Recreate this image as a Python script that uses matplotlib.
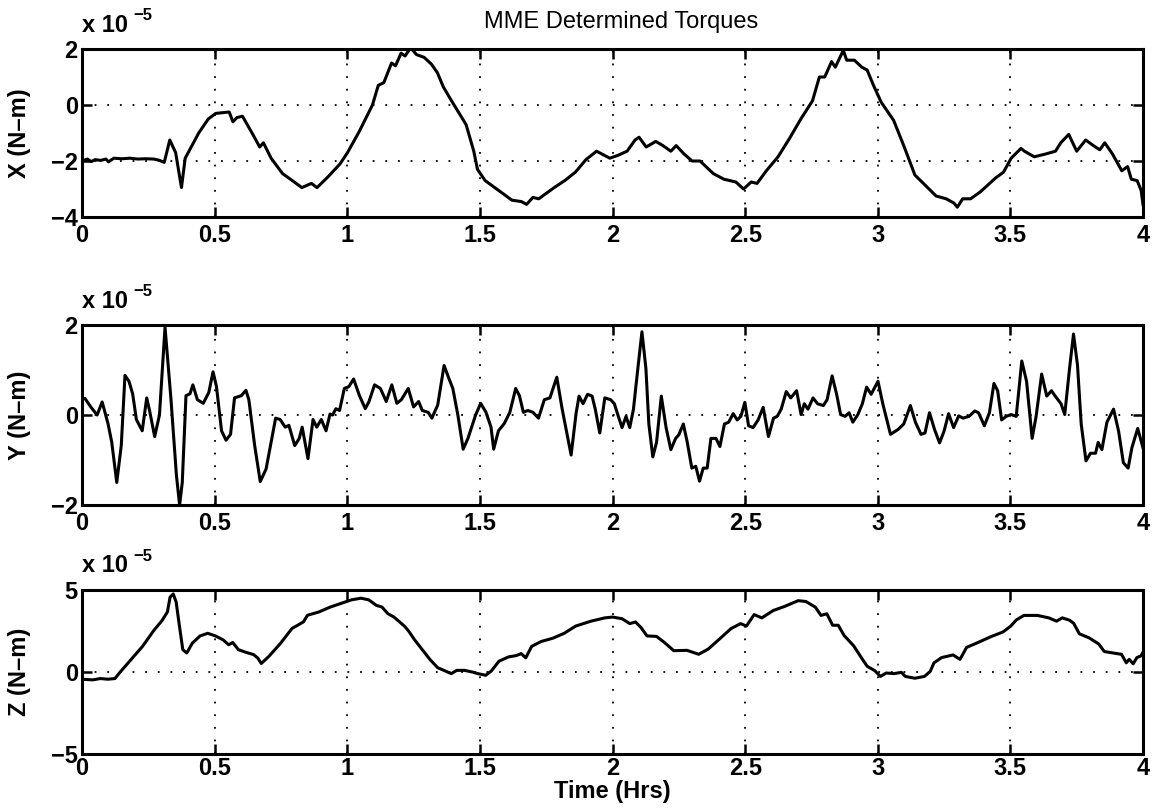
import matplotlib
matplotlib.use("Agg")
import matplotlib.pyplot as plt

plt.rcParams['font.family'] = ['Liberation Sans', 'DejaVu Sans']

# torque values in units of 1e-5 N-m, time in hours
x_time = [0.0, 0.02, 0.035, 0.05, 0.07, 0.09, 0.1, 0.12, 0.15, 0.18, 0.21, 0.24, 0.27, 0.29, 0.31,
          0.331, 0.353, 0.375, 0.389, 0.44, 0.476, 0.504, 0.555, 0.569, 0.584, 0.605, 0.641, 0.67,
          0.684, 0.713, 0.756, 0.793, 0.829, 0.865, 0.886, 0.929, 0.973, 1.001, 1.045, 1.095, 1.117,
          1.138, 1.167, 1.182, 1.203, 1.218, 1.239, 1.261, 1.29, 1.318, 1.34, 1.362, 1.39, 1.419,
          1.448, 1.477, 1.491, 1.52, 1.563, 1.621, 1.657, 1.676, 1.7, 1.722, 1.78, 1.82, 1.86, 1.9,
          1.94, 1.97, 1.99, 2.02, 2.055, 2.085, 2.1, 2.127, 2.163, 2.19, 2.22, 2.24, 2.27, 2.3, 2.33,
          2.38, 2.42, 2.465, 2.494, 2.523, 2.545, 2.58, 2.624, 2.667, 2.71, 2.754, 2.78, 2.8, 2.826,
          2.84, 2.87, 2.883, 2.912, 2.94, 2.96, 2.984, 3.013, 3.042, 3.06, 3.1, 3.14, 3.193, 3.22,
          3.258, 3.287, 3.3, 3.32, 3.35, 3.387, 3.445, 3.474, 3.503, 3.54, 3.553, 3.59, 3.633, 3.67,
          3.69, 3.72, 3.75, 3.784, 3.813, 3.837, 3.856, 3.885, 3.92, 3.942, 3.956, 3.978, 3.993, 4.0]
x_torque = [-2.0, -1.93, -2.02, -1.95, -1.98, -1.93, -2.03, -1.9, -1.92, -1.9, -1.93, -1.92, -1.93,
            -1.97, -2.05, -1.25, -1.7, -2.95, -1.9, -1.0, -0.5, -0.3, -0.25, -0.6, -0.45, -0.4, -1.0,
            -1.5, -1.35, -1.9, -2.45, -2.7, -2.95, -2.8, -2.95, -2.55, -2.1, -1.7, -0.95, 0.0, 0.7,
            0.8, 1.5, 1.4, 1.85, 1.75, 2.05, 1.8, 1.7, 1.45, 1.15, 0.65, 0.2, -0.25, -0.7, -1.65,
            -2.3, -2.7, -3.0, -3.4, -3.45, -3.55, -3.3, -3.35, -2.95, -2.7, -2.4, -1.95, -1.65, -1.8,
            -1.9, -1.8, -1.65, -1.25, -1.15, -1.5, -1.3, -1.45, -1.65, -1.45, -1.75, -2.0, -2.0,
            -2.45, -2.65, -2.75, -3.0, -2.75, -2.8, -2.35, -1.85, -1.2, -0.5, 0.15, 1.0, 1.0, 1.55,
            1.35, 1.95, 1.6, 1.6, 1.35, 1.25, 0.7, 0.1, -0.3, -0.55, -1.5, -2.5, -3.0, -3.25, -3.35,
            -3.5, -3.65, -3.35, -3.35, -3.1, -2.6, -2.4, -1.9, -1.55, -1.65, -1.85, -1.75, -1.65,
            -1.35, -1.05, -1.65, -1.25, -1.45, -1.6, -1.35, -1.75, -2.35, -2.2, -2.65, -2.7, -3.05,
            -3.55]

y_time = [0.0, 0.011, 0.033, 0.057, 0.076, 0.098, 0.112, 0.131, 0.148, 0.162, 0.177, 0.191, 0.205,
          0.227, 0.244, 0.256, 0.274, 0.292, 0.313, 0.335, 0.356, 0.368, 0.378, 0.392, 0.407, 0.418,
          0.435, 0.457, 0.478, 0.494, 0.507, 0.526, 0.543, 0.56, 0.575, 0.601, 0.618, 0.629, 0.651,
          0.672, 0.694, 0.713, 0.73, 0.747, 0.766, 0.78, 0.802, 0.819, 0.83, 0.852, 0.871, 0.885,
          0.902, 0.92, 0.935, 0.945, 0.957, 0.971, 0.989, 1.006, 1.024, 1.046, 1.068, 1.082, 1.103,
          1.125, 1.147, 1.168, 1.187, 1.204, 1.23, 1.25, 1.269, 1.283, 1.305, 1.319, 1.341, 1.365,
          1.384, 1.398, 1.417, 1.437, 1.455, 1.484, 1.503, 1.523, 1.542, 1.552, 1.57, 1.592, 1.613,
          1.635, 1.649, 1.664, 1.681, 1.7, 1.721, 1.743, 1.764, 1.79, 1.81, 1.844, 1.863, 1.874,
          1.889, 1.906, 1.923, 1.935, 1.952, 1.971, 1.993, 2.007, 2.022, 2.036, 2.051, 2.065, 2.079,
          2.094, 2.111, 2.126, 2.137, 2.152, 2.166, 2.184, 2.202, 2.22, 2.238, 2.25, 2.267, 2.282,
          2.299, 2.314, 2.328, 2.342, 2.357, 2.371, 2.39, 2.405, 2.422, 2.438, 2.455, 2.47, 2.484,
          2.499, 2.513, 2.53, 2.549, 2.568, 2.588, 2.607, 2.621, 2.636, 2.655, 2.672, 2.694, 2.711,
          2.723, 2.737, 2.756, 2.773, 2.795, 2.809, 2.828, 2.845, 2.86, 2.877, 2.892, 2.906, 2.925,
          2.942, 2.958, 2.975, 3.001, 3.019, 3.048, 3.077, 3.098, 3.123, 3.142, 3.163, 3.178, 3.195,
          3.214, 3.233, 3.25, 3.267, 3.286, 3.305, 3.322, 3.344, 3.366, 3.38, 3.402, 3.421, 3.438,
          3.452, 3.467, 3.484, 3.503, 3.522, 3.543, 3.561, 3.582, 3.597, 3.618, 3.637, 3.655, 3.669,
          3.691, 3.705, 3.723, 3.738, 3.753, 3.767, 3.785, 3.802, 3.821, 3.831, 3.845, 3.864, 3.889,
          3.908, 3.926, 3.944, 3.958, 3.98, 4.0]
y_torque = [0.35, 0.37, 0.18, 0.0, 0.29, -0.19, -0.6, -1.5, -0.68, 0.88, 0.75, 0.47, -0.1, -0.35,
            0.38, 0.06, -0.48, 0.0, 1.95, 0.38, -1.34, -2.0, -1.5, 0.43, 0.47, 0.67, 0.34, 0.26, 0.5,
            0.96, 0.63, -0.35, -0.56, -0.43, 0.38, 0.43, 0.55, 0.34, -0.68, -1.48, -1.2, -0.6, -0.07,
            -0.1, -0.27, -0.23, -0.68, -0.52, -0.27, -0.97, -0.1, -0.27, -0.1, -0.35, 0.02, 0.0, 0.14,
            0.1, 0.59, 0.63, 0.8, 0.43, 0.14, 0.3, 0.67, 0.59, 0.3, 0.67, 0.26, 0.34, 0.59, 0.18, 0.3,
            0.1, 0.06, -0.07, 0.22, 1.1, 0.8, 0.59, 0.0, -0.76, -0.52, 0.0, 0.26, 0.06, -0.27, -0.76,
            -0.35, -0.19, 0.06, 0.59, 0.43, 0.06, 0.1, 0.06, -0.07, 0.34, 0.38, 0.84, 0.14, -0.89,
            0.05, 0.42, 0.25, 0.46, 0.42, 0.13, -0.4, 0.38, 0.34, 0.25, -0.03, -0.28, -0.03, -0.28,
            0.13, 0.95, 1.85, 1.03, -0.2, -0.93, -0.61, 0.42, -0.28, -0.77, -0.52, -0.44, -0.2, -0.61,
            -1.18, -1.14, -1.47, -1.18, -1.18, -0.52, -0.52, -0.7, -0.2, -0.16, 0.03, -0.11, -0.03,
            0.28, -0.24, -0.28, -0.11, 0.17, -0.48, -0.07, -0.03, 0.13, 0.52, 0.38, 0.54, 0.01, 0.25,
            0.13, 0.38, 0.25, 0.21, 0.34, 0.87, 0.46, 0.01, -0.03, 0.05, -0.16, 0.01, 0.25, 0.62,
            0.46, 0.75, 0.25, -0.43, -0.32, -0.2, 0.21, -0.16, -0.43, -0.4, 0.05, -0.32, -0.62, -0.36,
            0.03, -0.28, -0.02, -0.07, -0.03, 0.09, 0.05, -0.24, 0.05, 0.7, 0.54, -0.11, -0.03, 0.01,
            -0.03, 1.2, 0.75, -0.52, -0.03, 0.91, 0.42, 0.54, 0.42, 0.25, 0.01, 1.03, 1.8, 1.11, -0.2,
            -1.02, -0.85, -0.85, -0.61, -0.77, -0.16, 0.13, -0.36, -1.06, -1.18, -0.73, -0.3, -0.73]

z_time = [0.0, 0.04, 0.069, 0.098, 0.124, 0.142, 0.185, 0.228, 0.272, 0.301, 0.322, 0.332, 0.344,
          0.355, 0.366, 0.38, 0.395, 0.416, 0.445, 0.474, 0.503, 0.532, 0.553, 0.568, 0.59, 0.618,
          0.647, 0.662, 0.676, 0.705, 0.749, 0.792, 0.814, 0.835, 0.85, 0.871, 0.893, 0.936, 0.98,
          1.016, 1.052, 1.081, 1.11, 1.131, 1.153, 1.175, 1.197, 1.218, 1.233, 1.254, 1.283, 1.312,
          1.341, 1.37, 1.392, 1.413, 1.442, 1.471, 1.493, 1.522, 1.543, 1.572, 1.608, 1.637, 1.656,
          1.673, 1.695, 1.731, 1.775, 1.818, 1.861, 1.919, 1.971, 2.0, 2.036, 2.065, 2.087, 2.108,
          2.13, 2.166, 2.195, 2.231, 2.281, 2.325, 2.361, 2.404, 2.447, 2.483, 2.505, 2.534, 2.563,
          2.606, 2.649, 2.7, 2.729, 2.765, 2.786, 2.808, 2.83, 2.851, 2.873, 2.909, 2.938, 2.96,
          2.989, 3.01, 3.032, 3.061, 3.089, 3.104, 3.14, 3.176, 3.198, 3.212, 3.241, 3.284, 3.31,
          3.335, 3.371, 3.429, 3.472, 3.501, 3.522, 3.551, 3.602, 3.645, 3.674, 3.696, 3.724, 3.739,
          3.76, 3.797, 3.833, 3.854, 3.898, 3.919, 3.937, 3.948, 3.963, 3.977, 3.992, 4.0]
z_torque = [-0.44, -0.48, -0.4, -0.44, -0.4, -0.04, 0.76, 1.56, 2.56, 3.12, 3.66, 4.56, 4.76, 4.26,
            2.96, 1.36, 1.16, 1.76, 2.2, 2.36, 2.2, 1.96, 1.66, 1.8, 1.36, 1.2, 1.06, 0.86, 0.52,
            0.96, 1.76, 2.66, 2.86, 3.06, 3.46, 3.56, 3.66, 3.96, 4.2, 4.4, 4.5, 4.4, 4.06, 3.96, 3.56,
            3.36, 3.06, 2.76, 2.46, 1.96, 1.36, 0.76, 0.26, 0.06, -0.1, 0.1, 0.1, 0.0, -0.1, -0.2,
            0.06, 0.66, 0.92, 1.0, 1.12, 0.86, 1.56, 1.86, 2.06, 2.36, 2.8, 3.1, 3.3, 3.35, 3.25, 2.95,
            3.05, 2.7, 2.2, 2.17, 1.81, 1.3, 1.32, 1.08, 1.4, 2.02, 2.65, 2.95, 2.8, 3.5, 3.3, 3.75,
            4.0, 4.35, 4.3, 3.95, 3.45, 3.55, 2.85, 2.85, 2.23, 1.6, 0.88, 0.35, 0.08, -0.27, -0.06,
            -0.1, -0.02, -0.27, -0.38, -0.27, 0.04, 0.56, 0.88, 1.04, 0.77, 1.5, 1.75, 2.17, 2.44,
            2.79, 3.17, 3.45, 3.45, 3.3, 3.1, 3.3, 3.15, 2.96, 2.33, 2.08, 1.71, 1.25, 1.13, 1.08,
            0.56, 0.77, 0.5, 0.88, 0.98, 1.2]

time_ticks = [0, 0.5, 1, 1.5, 2, 2.5, 3, 3.5, 4]
tick_labels = ['0', '0.5', '1', '1.5', '2', '2.5', '3', '3.5', '4']

panels = [
    (x_time, x_torque, 'X (N\u2013m)', (-4, 2), [-4, -2, 0, 2]),
    (y_time, y_torque, 'Y (N\u2013m)', (-2, 2), [-2, 0, 2]),
    (z_time, z_torque, 'Z (N\u2013m)', (-5, 5), [-5, 0, 5]),
]

fig = plt.figure(figsize=(11.6, 8.08), dpi=100)

W, H = 1160.0, 808.0
left, right = 82, 1143
# (top, bottom) of each axes box in pixels
boxes = [(49, 217), (325, 505), (590, 754)]

for i, (t, v, ylab, ylim, yticks) in enumerate(panels):
    top, bot = boxes[i]
    ax = fig.add_axes([left / W, 1 - bot / H, (right - left) / W, (bot - top) / H])
    ax.plot(t, v, color='black', lw=2.2)
    ax.set_xlim(0, 4)
    ax.set_ylim(*ylim)
    ax.set_xticks(time_ticks)
    ax.set_xticklabels(tick_labels)
    ax.set_yticks(yticks)
    ax.set_yticklabels([str(k).replace('-', '\u2212') for k in yticks])
    ax.grid(True, color='black', linestyle=(0, (1, 6)), linewidth=1.3)
    ax.tick_params(direction='in', length=7, width=1.8, top=True, right=True,
                   labelsize=17, pad=3)
    ax.tick_params(axis='x', pad=5 if i < 2 else 2)
    for lab in ax.get_xticklabels() + ax.get_yticklabels():
        lab.set_fontweight('bold')
    for sp in ax.spines.values():
        sp.set_linewidth(2.2)
    ax.set_ylabel(ylab, fontsize=17, fontweight='bold')
    ax.yaxis.set_label_coords(-0.048, 0.5)
    ax.annotate('x 10', xy=(0, 1), xycoords='axes fraction', xytext=(0, 9),
                textcoords='offset points', fontsize=17, fontweight='bold',
                ha='left', va='bottom')
    ax.annotate('\u22125', xy=(0, 1), xycoords='axes fraction', xytext=(37, 19),
                textcoords='offset points', fontsize=12, fontweight='bold',
                ha='left', va='bottom')
    if i == 0:
        ax.set_title('MME Determined Torques', fontsize=17, pad=15, x=0.508)
    if i == 2:
        ax.set_xlabel('Time (Hrs)', fontsize=17, fontweight='bold', labelpad=0)

fig.savefig('out.png', dpi=100)
